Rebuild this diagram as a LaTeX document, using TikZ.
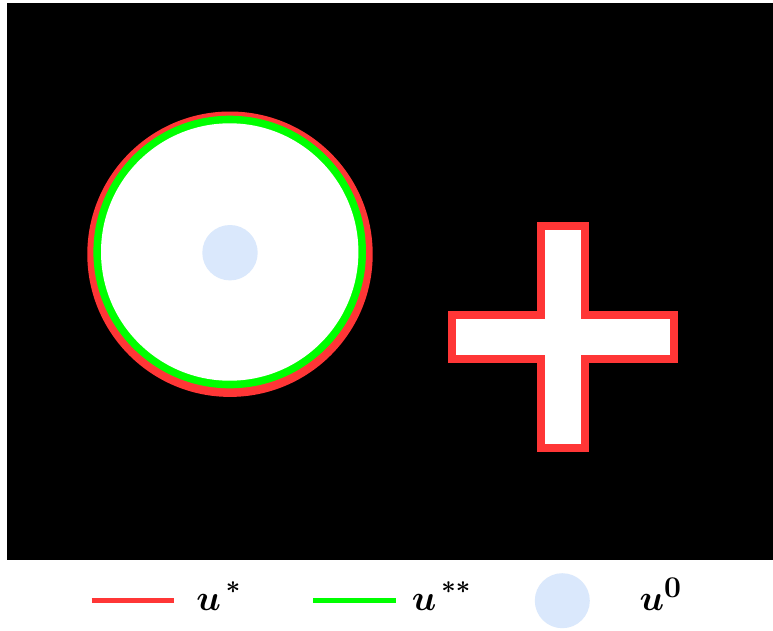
\documentclass[tikz,border=0pt]{standalone}
\usepackage{amsmath}
\usepackage{bm}
\definecolor{myred}{HTML}{FF3636}
\definecolor{mygreen}{HTML}{00FF00}
\definecolor{myblue}{HTML}{DAE8FC}
\newcommand{\mystar}{\raisebox{0.25ex}{$\scriptscriptstyle\bm{*}$}}
\begin{document}
\begin{tikzpicture}[x=1pt,y=-1pt,
  legtext/.style={anchor=base west,inner sep=0pt,font=\Huge,scale=1.45},
  legline/.style={line width=5pt}]
\useasboundingbox (0,0) rectangle (773,630);
\fill[white] (0,0) rectangle (773,630);
\fill[black] (7,3) rectangle (773,560);
% circle
\fill[myred] (230,254.2) circle[radius=142.7];
\fill[mygreen] (229.7,252) circle[radius=136.3];
\fill[white] (229.7,252) circle[radius=128.7];
\node[circle,fill=myblue,minimum size=55.4pt,inner sep=0pt] (dot) at (230,252.7) {};
% cross
\draw[myred,line width=8pt,fill=white,miter limit=10]
  (540.7,226.3) -- (585,226.3) -- (585,314.7) -- (673.7,314.7) -- (673.7,359.3)
  -- (585,359.3) -- (585,448.3) -- (540.7,448.3) -- (540.7,359.3) -- (451.7,359.3)
  -- (451.7,314.7) -- (540.7,314.7) -- cycle;
% legend
\coordinate (r1) at (91.7,600.7);
\coordinate (r2) at (174.3,600.7);
\draw[legline,myred] (r1) -- (r2);
\node[legtext] (t1) at (196,610.5) {$\bm{u}^{\,\mystar}$};
\coordinate (g1) at (313.3,600.7);
\coordinate (g2) at (396,600.7);
\draw[legline,mygreen] (g1) -- (g2);
\node[legtext] (t2) at (411.5,610.5) {$\bm{u}^{\,\mystar\mystar}$};
\node[circle,fill=myblue,minimum size=55pt,inner sep=0pt] (ldot) at (562.3,600.7) {};
\node[legtext] (t3) at (639.3,610.5) {$\bm{u}^{\bm{0}}$};
\end{tikzpicture}
\end{document}
